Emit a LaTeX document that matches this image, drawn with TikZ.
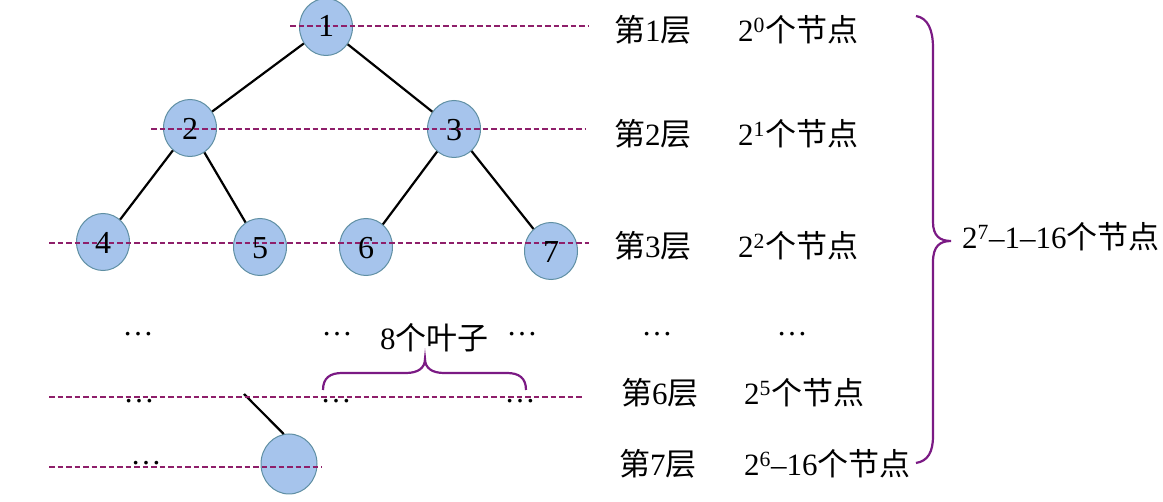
\documentclass[tikz,border=0pt]{standalone}
\usepackage{fontspec}
\setmainfont{Liberation Serif}
\newfontfamily\cjk{Noto Sans CJK SC}
\usetikzlibrary{shapes.geometric}
\definecolor{nodefill}{HTML}{A6C4EC}
\definecolor{nodeline}{HTML}{5F8FA3}
\definecolor{levelline}{HTML}{8E1F6A}
\definecolor{bracecol}{HTML}{7B1A84}
\newcommand{\zh}[1]{{\cjk #1}}
\begin{document}
\begin{tikzpicture}[x=1pt,y=-1pt,
  treenode/.style={ellipse,draw=nodeline,fill=nodefill,line width=1pt,
    minimum width=53pt,minimum height=57pt,inner sep=0pt},
  numlabel/.style={font=\fontsize{32}{32}\selectfont,inner sep=0pt},
  txt/.style={font=\fontsize{31}{31}\selectfont,inner sep=0pt,anchor=base west},
  dotsnode/.style={font=\fontsize{31}{31}\selectfont,inner sep=0pt},
  edge/.style={line width=2.2pt,black},
  levelline/.style={draw=levelline,line width=2.2pt,dash pattern=on 5.5pt off 3pt},
  bracepath/.style={draw=bracecol,line width=2.2pt}
]
\fill[white] (0,0) rectangle (1163,502);
\useasboundingbox (0,0) rectangle (1163,502);

% tree nodes
\node[treenode] (n1) at (326,27) {};
\node[treenode] (n2) at (190,128) {};
\node[treenode] (n3) at (454,129) {};
\node[treenode] (n4) at (103,242) {};
\node[treenode] (n5) at (260,247) {};
\node[treenode] (n6) at (366,247) {};
\node[treenode] (n7) at (551,251) {};
\node[treenode,minimum width=56pt,minimum height=60pt] (n8) at (289,464) {};
\coordinate (c6) at (244,394);

% edges
\draw[edge] (n1) -- (n2);
\draw[edge] (n1) -- (n3);
\draw[edge] (n2) -- (n4);
\draw[edge] (n2) -- (n5);
\draw[edge] (n3) -- (n6);
\draw[edge] (n3) -- (n7);
\draw[edge] (c6) -- (n8.100);

% level lines
\draw[levelline] (290,26) -- (589,26);
\draw[levelline] (151,129) -- (585,129);
\draw[levelline] (49,243) -- (589,243);
\draw[levelline] (49,397) -- (582,397);
\draw[levelline] (49,467) -- (322,467);

% node labels
\node[numlabel] (t1) at (326,26) {1};
\node[numlabel] (t2) at (190,129) {2};
\node[numlabel] (t3) at (454,130) {3};
\node[numlabel] (t4) at (103,243) {4};
\node[numlabel] (t5) at (260,248) {5};
\node[numlabel] (t6) at (366,248) {6};
\node[numlabel] (t7) at (551,252) {7};

% ellipses
\node[dotsnode] (d1) at (138,334) {…};
\node[dotsnode] (d2) at (337,334) {…};
\node[dotsnode] (d3) at (522,334) {…};
\node[dotsnode] (d4) at (657,334) {…};
\node[dotsnode] (d5) at (792,334) {…};
\node[dotsnode] (d6) at (139,401) {…};
\node[dotsnode] (d7) at (336,401) {…};
\node[dotsnode] (d8) at (520,401) {…};
\node[dotsnode] (d9) at (146,463) {…};

% leaves label and brace
\node[txt] (leaves) at (380,350) {8\zh{个叶子}};
\draw[bracepath] (323,390) .. controls (323,378) and (330,373) .. (342,373) -- (406,373)
  .. controls (418,373) and (425,368) .. (425,359)
  .. controls (425,368) and (432,373) .. (444,373) -- (507,373)
  .. controls (519,373) and (526,378) .. (526,390);

% level texts
\node[txt] (L1) at (614,42) {\zh{第}1\zh{层}};
\node[txt] (N1) at (738,42) {2\textsuperscript{0}\zh{个节点}};
\node[txt] (L2) at (614,146) {\zh{第}2\zh{层}};
\node[txt] (N2) at (738,146) {2\textsuperscript{1}\zh{个节点}};
\node[txt] (L3) at (614,258) {\zh{第}3\zh{层}};
\node[txt] (N3) at (738,258) {2\textsuperscript{2}\zh{个节点}};
\node[txt] (L6) at (621,405) {\zh{第}6\zh{层}};
\node[txt] (N6) at (744,405) {2\textsuperscript{5}\zh{个节点}};
\node[txt] (L7) at (619,476) {\zh{第}7\zh{层}};
\node[txt] (N7) at (744,476) {2\textsuperscript{6}–16\zh{个节点}};

% total brace and label
\draw[bracepath] (916,16) .. controls (928,18) and (933,30) .. (933,48) -- (933,222)
  .. controls (933,236) and (940,241) .. (951,241)
  .. controls (940,241) and (933,246) .. (933,262) -- (933,436)
  .. controls (933,452) and (928,461) .. (916,463);
\node[txt] (total) at (962,249) {2\textsuperscript{7}–1–16\zh{个节点}};
\end{tikzpicture}
\end{document}
